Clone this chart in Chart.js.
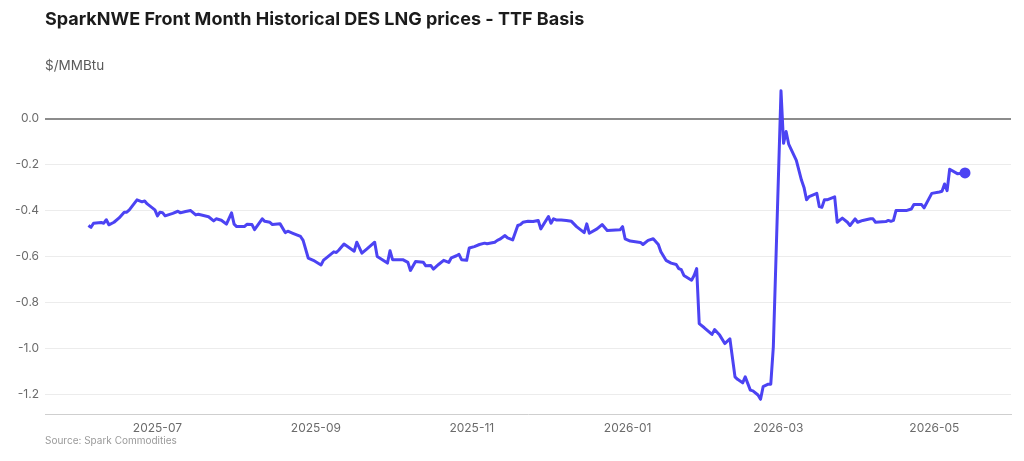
<!DOCTYPE html>
<html>
<head>
<meta charset="utf-8">
<script src="https://cdn.jsdelivr.net/npm/chart.js@4.4.1/dist/chart.umd.min.js"></script>
<style>
  html, body { margin: 0; padding: 0; background: #ffffff; }
  #wrap { width: 1024px; height: 461px; }
</style>
</head>
<body>
<div id="wrap"><canvas id="c" width="1024" height="461"></canvas></div>
<script>
const titleText = 'SparkNWE Front Month Historical DES LNG prices - TTF Basis';
const unitText = '$/MMBtu';
const sourceText = 'Source: Spark Commodities';

const dates = [
'2025-06-04','2025-06-05','2025-06-06','2025-06-09','2025-06-10','2025-06-11','2025-06-12','2025-06-14','2025-06-16','2025-06-18','2025-06-19','2025-06-20','2025-06-23','2025-06-25','2025-06-26','2025-06-27','2025-06-30',
'2025-07-01','2025-07-02','2025-07-03','2025-07-04','2025-07-07','2025-07-09','2025-07-10','2025-07-12','2025-07-14','2025-07-16','2025-07-17','2025-07-21','2025-07-23','2025-07-24','2025-07-26','2025-07-28','2025-07-30','2025-07-31',
'2025-08-01','2025-08-04','2025-08-05','2025-08-07','2025-08-08','2025-08-11','2025-08-12','2025-08-14','2025-08-15','2025-08-18','2025-08-20','2025-08-21','2025-08-23','2025-08-26','2025-08-27','2025-08-29','2025-08-31',
'2025-09-03','2025-09-04','2025-09-05','2025-09-08','2025-09-09','2025-09-10','2025-09-12','2025-09-16','2025-09-17','2025-09-19','2025-09-21','2025-09-24','2025-09-25','2025-09-27','2025-09-29','2025-09-30',
'2025-10-01','2025-10-05','2025-10-07','2025-10-08','2025-10-10','2025-10-13','2025-10-14','2025-10-16','2025-10-17','2025-10-19','2025-10-21','2025-10-23','2025-10-24','2025-10-26','2025-10-27','2025-10-28','2025-10-30','2025-10-31',
'2025-11-02','2025-11-04','2025-11-06','2025-11-07','2025-11-10','2025-11-11','2025-11-12','2025-11-14','2025-11-15','2025-11-17','2025-11-19','2025-11-20','2025-11-21','2025-11-23','2025-11-25','2025-11-27','2025-11-28',
'2025-12-01','2025-12-02','2025-12-03','2025-12-04','2025-12-06','2025-12-08','2025-12-10','2025-12-12','2025-12-15','2025-12-16','2025-12-17','2025-12-20','2025-12-22','2025-12-24','2025-12-29','2025-12-30','2025-12-31',
'2026-01-02','2026-01-06','2026-01-07','2026-01-09','2026-01-11','2026-01-13','2026-01-14','2026-01-16','2026-01-18','2026-01-20','2026-01-21','2026-01-22','2026-01-23','2026-01-26','2026-01-27','2026-01-28','2026-01-29','2026-01-31',
'2026-02-03','2026-02-04','2026-02-06','2026-02-08','2026-02-10','2026-02-12','2026-02-13','2026-02-15','2026-02-16','2026-02-18','2026-02-19','2026-02-21','2026-02-22','2026-02-23','2026-02-25','2026-02-26','2026-02-27',
'2026-03-02','2026-03-03','2026-03-04','2026-03-05','2026-03-08','2026-03-10','2026-03-11','2026-03-12','2026-03-13','2026-03-16','2026-03-17','2026-03-18','2026-03-19','2026-03-20','2026-03-23','2026-03-24','2026-03-26','2026-03-28','2026-03-29','2026-03-31',
'2026-04-01','2026-04-03','2026-04-06','2026-04-07','2026-04-08','2026-04-12','2026-04-13','2026-04-14','2026-04-15','2026-04-16','2026-04-20','2026-04-22','2026-04-23','2026-04-26','2026-04-27','2026-04-30',
'2026-05-03','2026-05-04','2026-05-05','2026-05-06','2026-05-07','2026-05-10','2026-05-13'
];

const values = [
-0.465,-0.473,-0.455,-0.452,-0.455,-0.44,-0.462,-0.451,-0.432,-0.407,-0.407,-0.397,-0.353,-0.362,-0.358,-0.371,-0.397,
-0.423,-0.407,-0.409,-0.423,-0.412,-0.403,-0.41,-0.404,-0.4,-0.419,-0.416,-0.427,-0.445,-0.436,-0.442,-0.459,-0.41,-0.459,
-0.47,-0.47,-0.46,-0.461,-0.483,-0.436,-0.447,-0.451,-0.461,-0.458,-0.496,-0.49,-0.499,-0.513,-0.53,-0.607,-0.617,
-0.637,-0.616,-0.607,-0.58,-0.583,-0.572,-0.546,-0.577,-0.538,-0.586,-0.567,-0.538,-0.6,-0.614,-0.629,-0.575,
-0.614,-0.614,-0.626,-0.661,-0.622,-0.625,-0.641,-0.64,-0.655,-0.635,-0.617,-0.626,-0.606,-0.597,-0.591,-0.614,-0.617,-0.563,
-0.557,-0.548,-0.542,-0.545,-0.538,-0.53,-0.525,-0.509,-0.519,-0.528,-0.465,-0.461,-0.451,-0.447,-0.448,-0.443,-0.48,
-0.426,-0.455,-0.436,-0.441,-0.441,-0.443,-0.447,-0.47,-0.496,-0.458,-0.499,-0.48,-0.461,-0.487,-0.484,-0.47,-0.523,
-0.533,-0.539,-0.548,-0.53,-0.523,-0.548,-0.58,-0.617,-0.629,-0.635,-0.653,-0.658,-0.683,-0.704,-0.683,-0.653,-0.893,-0.911,
-0.94,-0.919,-0.943,-0.98,-0.959,-1.125,-1.136,-1.151,-1.125,-1.183,-1.186,-1.204,-1.223,-1.168,-1.157,-1.157,-0.994,
0.122,-0.107,-0.055,-0.11,-0.181,-0.267,-0.299,-0.353,-0.339,-0.325,-0.383,-0.386,-0.353,-0.353,-0.34,-0.451,-0.433,-0.451,-0.465,-0.436,
-0.451,-0.443,-0.436,-0.436,-0.451,-0.448,-0.443,-0.447,-0.443,-0.4,-0.4,-0.393,-0.374,-0.374,-0.388,-0.325,
-0.319,-0.316,-0.284,-0.313,-0.22,-0.239,-0.236
];

const xTickDates = ['2025-07-01','2025-09-01','2025-11-01','2026-01-01','2026-03-01','2026-05-01'];
const xTickLabels = ['2025-07','2025-09','2025-11','2026-01','2026-03','2026-05'];
const yTickValues = [-1.2,-1.0,-0.8,-0.6,-0.4,-0.2,0.0];
const xRange = ['2025-05-18','2026-05-31'];
const yRange = [-1.287, 0.144];

const DAY = 86400000;
const toDay = s => Date.UTC(+s.slice(0,4), +s.slice(5,7)-1, +s.slice(8,10)) / DAY;

const FONT = "Inter, 'Open Sans', 'DejaVu Sans', sans-serif";
const LINE = '#4c43f3';

const sourcePlugin = {
  id: 'sourceNote',
  afterDraw(chart) {
    const ctx = chart.ctx;
    ctx.save();
    ctx.font = '10px ' + FONT;
    ctx.fillStyle = '#9a9a9a';
    ctx.textBaseline = 'middle';
    ctx.textAlign = 'left';
    ctx.fillText(sourceText, chart.chartArea.left, 441);
    ctx.restore();
  }
};

const lastIdx = values.length - 1;

new Chart(document.getElementById('c'), {
  type: 'line',
  data: {
    datasets: [{
      data: dates.map((d, i) => ({ x: toDay(d), y: values[i] })),
      borderColor: LINE,
      backgroundColor: LINE,
      borderWidth: 3,
      borderJoinStyle: 'round',
      tension: 0,
      pointRadius: ctx => ctx.dataIndex === lastIdx ? 5.5 : 0,
      pointHoverRadius: 0,
      pointBackgroundColor: LINE,
      pointBorderWidth: 0,
      fill: false
    }]
  },
  options: {
    responsive: false,
    animation: false,
    devicePixelRatio: 1,
    layout: { padding: { top: 0, left: 0, right: 13, bottom: 23 } },
    plugins: {
      legend: { display: false },
      tooltip: { enabled: false },
      title: {
        display: true, text: titleText, align: 'start', fullSize: false,
        color: '#1b1b1b', font: { family: FONT, size: 18, weight: 'bold' },
        padding: { top: 9, bottom: 27 }
      },
      subtitle: {
        display: true, text: unitText, align: 'start', fullSize: false,
        color: '#5a5a5a', font: { family: FONT, size: 13.5 },
        padding: { top: 0, bottom: 12 }
      }
    },
    scales: {
      x: {
        type: 'linear',
        min: toDay(xRange[0]),
        max: toDay(xRange[1]),
        afterBuildTicks: s => { s.ticks = xTickDates.map(d => ({ value: toDay(d) })); },
        afterFit: s => { s.height = 24; },
        grid: { display: false, drawTicks: false },
        border: { display: true, color: '#cfcfcf', width: 1 },
        ticks: {
          autoSkip: false, maxRotation: 0, padding: 7,
          color: '#6b6b6b', font: { family: FONT, size: 12 },
          callback: (v, i) => xTickLabels[i]
        }
      },
      y: {
        min: yRange[0],
        max: yRange[1],
        afterBuildTicks: s => { s.ticks = yTickValues.map(v => ({ value: v })); },
        afterFit: s => { s.width = 45; },
        grid: {
          drawTicks: false,
          color: c => (c.tick && Math.abs(c.tick.value) < 1e-9) ? '#8c8c8c' : '#ececec',
          lineWidth: c => (c.tick && Math.abs(c.tick.value) < 1e-9) ? 2 : 1
        },
        border: { display: false },
        ticks: {
          padding: 6,
          color: '#6b6b6b', font: { family: FONT, size: 12 },
          callback: v => v.toFixed(1)
        }
      }
    }
  },
  plugins: [sourcePlugin]
});
</script>
</body>
</html>
